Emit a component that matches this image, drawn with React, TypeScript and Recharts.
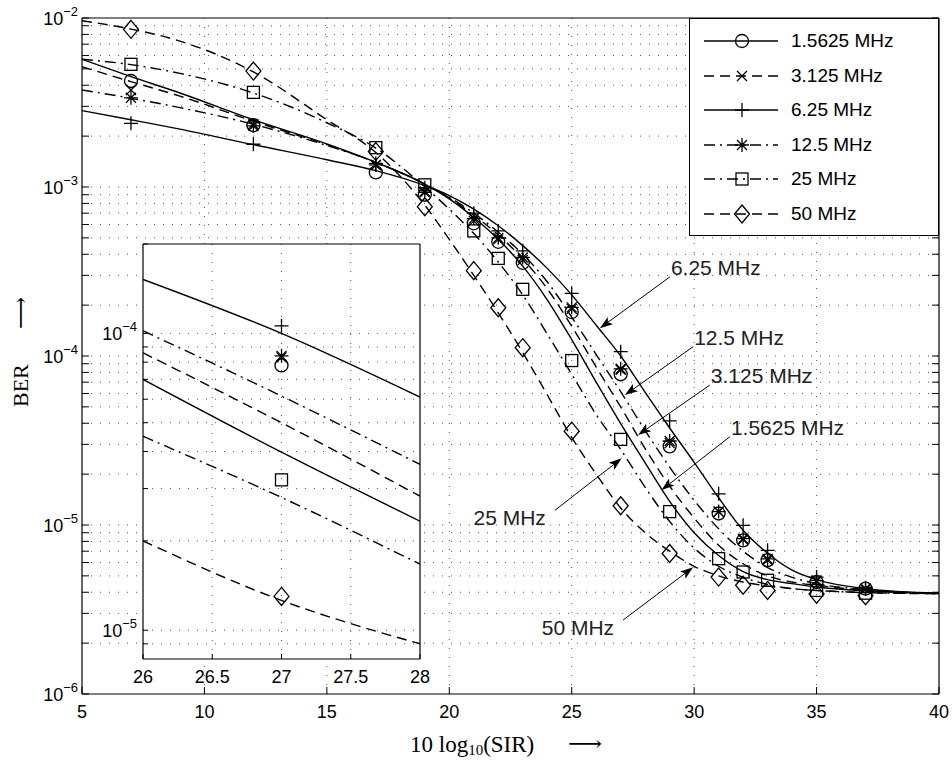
import React from "react";
import {
  ComposedChart,
  Line,
  Scatter,
  XAxis,
  YAxis,
  ReferenceLine,
  CartesianGrid,
  Legend,
} from "recharts";

if (typeof document !== "undefined") document.body.style.margin = "0";

const SANS = '"Liberation Sans", Arial, Helvetica, sans-serif';
const SERIF = '"Liberation Serif", "DejaVu Serif", serif';

// Theoriekurven (x = 10 log10(SIR))
const sirTheory = [5, 7, 9, 12, 15, 17, 19, 20, 21, 22, 23, 24, 25, 26, 27, 28, 29, 30, 31, 32, 33, 34, 35, 37, 40];
const theory1_5625 = [5.7e-3, 4.5e-3, 3.6e-3, 2.5e-3, 1.8e-3, 1.4e-3, 1.04e-3, 8.5e-4, 6.6e-4, 4.9e-4, 3.4e-4, 2.15e-4, 1.25e-4, 7.0e-5, 3.98e-5, 2.33e-5, 1.38e-5, 9.0e-6, 6.6e-6, 5.3e-6, 4.75e-6, 4.5e-6, 4.3e-6, 4.08e-6, 3.93e-6];
const theory3_125 = [5.15e-3, 4.2e-3, 3.45e-3, 2.45e-3, 1.78e-3, 1.4e-3, 1.04e-3, 8.6e-4, 6.8e-4, 5.2e-4, 3.75e-4, 2.5e-4, 1.5e-4, 8.6e-5, 5.0e-5, 2.83e-5, 1.7e-5, 1.1e-5, 7.6e-6, 5.9e-6, 5.0e-6, 4.6e-6, 4.4e-6, 4.1e-6, 3.93e-6];
const theory6_25 = [2.83e-3, 2.5e-3, 2.2e-3, 1.78e-3, 1.45e-3, 1.25e-3, 1.02e-3, 8.9e-4, 7.4e-4, 5.9e-4, 4.5e-4, 3.3e-4, 2.3e-4, 1.52e-4, 1.0e-4, 6.1e-5, 3.75e-5, 2.35e-5, 1.45e-5, 9.3e-6, 6.8e-6, 5.4e-6, 4.75e-6, 4.2e-6, 3.95e-6];
const theory12_5 = [3.75e-3, 3.35e-3, 2.95e-3, 2.35e-3, 1.76e-3, 1.4e-3, 1.04e-3, 8.7e-4, 7.0e-4, 5.4e-4, 4.0e-4, 2.75e-4, 1.7e-4, 1.02e-4, 6.15e-5, 3.62e-5, 2.2e-5, 1.4e-5, 9.5e-6, 7.0e-6, 5.6e-6, 4.9e-6, 4.5e-6, 4.15e-6, 3.94e-6];
const theory25 = [5.7e-3, 5.3e-3, 4.7e-3, 3.6e-3, 2.4e-3, 1.7e-3, 1.0e-3, 7.4e-4, 5.3e-4, 3.6e-4, 2.3e-4, 1.35e-4, 7.8e-5, 4.5e-5, 2.8e-5, 1.67e-5, 1.05e-5, 7.3e-6, 5.7e-6, 4.9e-6, 4.45e-6, 4.2e-6, 4.1e-6, 3.98e-6, 3.93e-6];
const theory50 = [9.64e-3, 8.6e-3, 7.3e-3, 4.8e-3, 2.5e-3, 1.6e-3, 7.8e-4, 4.9e-4, 3.0e-4, 1.8e-4, 1.05e-4, 5.9e-5, 3.3e-5, 2.0e-5, 1.26e-5, 9.0e-6, 7.0e-6, 5.7e-6, 5.0e-6, 4.6e-6, 4.35e-6, 4.2e-6, 4.1e-6, 3.98e-6, 3.92e-6];

// Simulationspunkte
const sirSim = [7, 12, 17, 19, 21, 22, 23, 25, 27, 29, 31, 32, 33, 35, 37];
const sim1_5625 = [4.24e-3, 2.32e-3, 1.22e-3, 9.0e-4, 6.1e-4, 4.74e-4, 3.56e-4, 1.82e-4, 7.8e-5, 2.92e-5, 1.17e-5, 8.1e-6, 6.2e-6, 4.6e-6, 4.2e-6];
const sim3_125 = [3.75e-3, 2.35e-3, 1.35e-3, 9.4e-4, 6.3e-4, 4.9e-4, 3.7e-4, 1.9e-4, 8.3e-5, 3.05e-5, 1.2e-5, 8.2e-6, 6.2e-6, 4.65e-6, 4.2e-6];
const sim6_25 = [2.38e-3, 1.79e-3, 1.38e-3, 9.9e-4, 7.0e-4, 5.5e-4, 4.19e-4, 2.35e-4, 1.06e-4, 4.13e-5, 1.53e-5, 9.95e-6, 7.08e-6, 4.92e-6, 4.25e-6];
const sim12_5 = [3.37e-3, 2.3e-3, 1.35e-3, 9.3e-4, 6.5e-4, 5.0e-4, 3.83e-4, 1.94e-4, 8.4e-5, 3.14e-5, 1.2e-5, 8.3e-6, 6.3e-6, 4.7e-6, 4.2e-6];
const sim25 = [5.32e-3, 3.63e-3, 1.71e-3, 1.03e-3, 5.5e-4, 3.78e-4, 2.48e-4, 9.4e-5, 3.21e-5, 1.2e-5, 6.32e-6, 5.27e-6, 4.71e-6, 4.1e-6, 3.95e-6];
const sim50 = [8.57e-3, 4.85e-3, 1.62e-3, 7.64e-4, 3.2e-4, 1.93e-4, 1.12e-4, 3.59e-5, 1.3e-5, 6.78e-6, 4.92e-6, 4.4e-6, 4.1e-6, 3.9e-6, 3.82e-6];

const seriesNames = ["1.5625 MHz", "3.125 MHz", "6.25 MHz", "12.5 MHz", "25 MHz", "50 MHz"];

// Achsen
const xTicks = [5, 10, 15, 20, 25, 30, 35, 40];
const xGrid = [10, 15, 20, 25, 30, 35];
const decades = [1e-6, 1e-5, 1e-4, 1e-3, 1e-2];
const minorSteps = [2, 3, 4, 5, 6, 7, 8, 9];
const insetXTicks = [26, 26.5, 27, 27.5, 28];
const insetXGrid = [26.5, 27, 27.5];
const insetDecades = [1e-5, 1e-4];

// Annotationen (Pfeil vom Text zur Kurve)
const annotLabels = ["6.25 MHz", "12.5 MHz", "3.125 MHz", "1.5625 MHz", "25 MHz", "50 MHz"];
const annotSide: ("start" | "end")[] = ["start", "start", "start", "start", "end", "end"];
const annotFromSir = [29.01, 29.96, 30.64, 31.46, 24.31, 27.1];
const annotFromBer = [2.94e-4, 1.135e-4, 6.73e-5, 3.33e-5, 1.22e-5, 2.74e-6];
const annotToSir = [26.15, 27.17, 27.71, 28.67, 27.04, 29.96];
const annotToBer = [1.46e-4, 5.87e-5, 3.41e-5, 1.61e-5, 2.48e-5, 5.62e-6];

const DASHED = "10 6";
const DASHDOT = "11 5 2 5";

type MarkerKind = "o" | "x" | "+" | "*" | "s" | "d";

const toPoints = (xs: number[], ys: number[]) => xs.map((x, i) => ({ x, y: ys[i] }));

const series: { name: string; theory: number[]; sim: number[]; marker: MarkerKind; dash?: string }[] = [
  { name: seriesNames[0], theory: theory1_5625, sim: sim1_5625, marker: "o" },
  { name: seriesNames[1], theory: theory3_125, sim: sim3_125, marker: "x", dash: DASHED },
  { name: seriesNames[2], theory: theory6_25, sim: sim6_25, marker: "+" },
  { name: seriesNames[3], theory: theory12_5, sim: sim12_5, marker: "*", dash: DASHDOT },
  { name: seriesNames[4], theory: theory25, sim: sim25, marker: "s", dash: DASHDOT },
  { name: seriesNames[5], theory: theory50, sim: sim50, marker: "d", dash: DASHED },
];

const mainYTicks: number[] = [];
decades.forEach((d, i) => {
  mainYTicks.push(d);
  if (i < decades.length - 1) minorSteps.forEach((m) => mainYTicks.push(d * m));
});
const mainYGrid = mainYTicks.filter((v) => v > 1.0001e-6 && v < 0.9999e-2);

const insetYTicks = [9e-6, ...[1e-5, 1e-4].flatMap((d) => [d, ...minorSteps.map((m) => d * m)])].filter(
  (v) => v <= 2.0001e-4
);
const insetYGrid = insetYTicks.filter((v) => v < 1.9999e-4);

const isDecade = (v: number) => Math.abs(Math.log10(v) - Math.round(Math.log10(v))) < 1e-6;

function Marker({ kind, cx, cy }: { kind: MarkerKind; cx: number; cy: number }) {
  const s = { stroke: "#000", strokeWidth: 1.3, fill: "none" };
  if (cx == null || cy == null || isNaN(cx) || isNaN(cy)) return <g />;
  switch (kind) {
    case "o":
      return <circle cx={cx} cy={cy} r={6.5} {...s} />;
    case "x":
      return <path d={`M${cx - 5},${cy - 5}L${cx + 5},${cy + 5}M${cx - 5},${cy + 5}L${cx + 5},${cy - 5}`} {...s} />;
    case "+":
      return <path d={`M${cx - 7},${cy}H${cx + 7}M${cx},${cy - 7}V${cy + 7}`} {...s} />;
    case "*":
      return (
        <path
          d={`M${cx - 7},${cy}H${cx + 7}M${cx},${cy - 7}V${cy + 7}M${cx - 5},${cy - 5}L${cx + 5},${cy + 5}M${cx - 5},${cy + 5}L${cx + 5},${cy - 5}`}
          {...s}
        />
      );
    case "s":
      return <rect x={cx - 6} y={cy - 6} width={12} height={12} {...s} />;
    case "d":
      return <polygon points={`${cx},${cy - 9} ${cx + 7.5},${cy} ${cx},${cy + 9} ${cx - 7.5},${cy}`} {...s} />;
  }
  return <g />;
}

function PowerLabel({ x, y, v }: { x: number; y: number; v: number }) {
  const e = Math.round(Math.log10(v));
  return (
    <text x={x} y={y} textAnchor="end" fontFamily={SANS} fontSize={18} fill="#000">
      10
      <tspan dy={-9} fontSize={13}>{`\u2212${Math.abs(e)}`}</tspan>
    </text>
  );
}

const TICK = 7;

const mainLeftTick = (p: any) => (
  <g>
    <line x1={p.x} x2={p.x + TICK} y1={p.y} y2={p.y} stroke="#000" strokeWidth={1} />
    {isDecade(p.payload.value) && <PowerLabel x={p.x - 4} y={p.y + 6.5} v={p.payload.value} />}
  </g>
);
const mainRightTick = (p: any) => (
  <line x1={p.x} x2={p.x - TICK} y1={p.y} y2={p.y} stroke="#000" strokeWidth={1} />
);
const mainBottomTick = (p: any) => (
  <g>
    <line x1={p.x} x2={p.x} y1={p.y} y2={p.y - TICK} stroke="#000" strokeWidth={1} />
    <text x={p.x} y={p.y + 24} textAnchor="middle" fontFamily={SANS} fontSize={18} fill="#000">
      {p.payload.value}
    </text>
  </g>
);
const mainTopTick = (p: any) => (
  <line x1={p.x} x2={p.x} y1={p.y} y2={p.y + TICK} stroke="#000" strokeWidth={1} />
);

const insetLeftTick = (p: any) => (
  <g>
    <line x1={p.x} x2={p.x + 5} y1={p.y} y2={p.y} stroke="#000" strokeWidth={1} />
    {insetDecades.some((d) => Math.abs(d - p.payload.value) / d < 1e-6) && (
      <PowerLabel x={p.x - 6} y={p.y + 6.5} v={p.payload.value} />
    )}
  </g>
);
const insetBottomTick = (p: any) => (
  <g>
    <line x1={p.x} x2={p.x} y1={p.y} y2={p.y - 5} stroke="#000" strokeWidth={1} />
    <text x={p.x} y={p.y + 24} textAnchor="middle" fontFamily={SANS} fontSize={18} fill="#000">
      {p.payload.value}
    </text>
  </g>
);

function makeArrow(label: string, side: "start" | "end") {
  return (p: any) => {
    const { x1, y1, x2, y2 } = p;
    if ([x1, y1, x2, y2].some((v) => typeof v !== "number" || isNaN(v))) return <g />;
    const ang = Math.atan2(y2 - y1, x2 - x1);
    const c = Math.cos(ang);
    const s = Math.sin(ang);
    const L = 13;
    const W = 4.5;
    const notch = 3;
    const bx = x2 - L * c;
    const by = y2 - L * s;
    const mx = x2 - (L - notch) * c;
    const my = y2 - (L - notch) * s;
    const pts = `${x2},${y2} ${bx - s * W},${by + c * W} ${mx},${my} ${bx + s * W},${by - c * W}`;
    const tx = side === "start" ? x1 + 1 : x1 - 9;
    const ty = side === "start" ? y1 - 2 : y1 + 15;
    return (
      <g>
        <line x1={x1} y1={y1} x2={mx} y2={my} stroke="#000" strokeWidth={1} />
        <polygon points={pts} fill="#000" />
        <text x={tx} y={ty} textAnchor={side} fontFamily={SANS} fontSize={21} fill="#222">
          {label}
        </text>
      </g>
    );
  };
}

function LegendBox() {
  return (
    <div
      style={{
        width: 250,
        height: 218,
        boxSizing: "border-box",
        border: "1px solid #000",
        background: "#fff",
        position: "relative",
        fontFamily: SANS,
      }}
    >
      {series.map((s, i) => (
        <div
          key={s.name}
          style={{
            position: "absolute",
            left: -1,
            top: 23 + i * 34.6 - 12 - 1,
            height: 24,
            display: "flex",
            alignItems: "center",
            whiteSpace: "nowrap",
          }}
        >
          <svg width={100} height={24} style={{ display: "block" }}>
            <line x1={15} x2={89} y1={12} y2={12} stroke="#000" strokeWidth={1.4} strokeDasharray={s.dash} />
            <Marker kind={s.marker} cx={53} cy={12} />
          </svg>
          <span style={{ fontSize: 19, marginLeft: 2, color: "#000" }}>{s.name}</span>
        </div>
      ))}
    </div>
  );
}

const AX = { stroke: "#000", strokeWidth: 1.2 };

export default function App() {
  const insetSeries = series.map((s) => ({
    ...s,
    theoryPts: toPoints(sirTheory, s.theory).filter((p) => p.x >= 26 && p.x <= 28),
    simPts: toPoints(sirSim, s.sim).filter((p) => p.x >= 26 && p.x <= 28),
  }));

  return (
    <div style={{ position: "relative", width: 952, height: 761, background: "#fff", fontFamily: SANS }}>
      <ComposedChart width={952} height={761} margin={{ top: 18, right: 13, bottom: 0, left: 0 }}>
        {mainYGrid.map((v) => (
          <ReferenceLine key={`gy${v}`} y={v} stroke="#555" strokeWidth={1} strokeDasharray="1 8" />
        ))}
        {xGrid.map((v) => (
          <ReferenceLine key={`gx${v}`} x={v} stroke="#555" strokeWidth={1} strokeDasharray="1 8" />
        ))}

        <XAxis
          dataKey="x"
          type="number"
          domain={[5, 40]}
          ticks={xTicks}
          interval={0}
          allowDataOverflow
          height={67}
          tickSize={0}
          tickMargin={0}
          tickLine={false}
          axisLine={AX}
          tick={mainBottomTick}
        />
        <XAxis
          xAxisId="t"
          orientation="top"
          mirror
          type="number"
          domain={[5, 40]}
          ticks={xTicks}
          interval={0}
          allowDataOverflow
          tickSize={0}
          tickMargin={0}
          tickLine={false}
          axisLine={AX}
          tick={mainTopTick}
        />
        <YAxis
          dataKey="y"
          type="number"
          scale="log"
          domain={[1e-6, 1e-2]}
          ticks={mainYTicks}
          interval={0}
          allowDataOverflow
          width={82}
          tickSize={0}
          tickMargin={0}
          tickLine={false}
          axisLine={AX}
          tick={mainLeftTick}
        />
        <YAxis
          yAxisId="r"
          orientation="right"
          mirror
          type="number"
          scale="log"
          domain={[1e-6, 1e-2]}
          ticks={mainYTicks}
          interval={0}
          allowDataOverflow
          tickSize={0}
          tickMargin={0}
          tickLine={false}
          axisLine={AX}
          tick={mainRightTick}
        />

        {series.map((s) => (
          <Line
            key={`l${s.name}`}
            data={toPoints(sirTheory, s.theory)}
            dataKey="y"
            type="monotone"
            stroke="#000"
            strokeWidth={1.4}
            strokeDasharray={s.dash}
            dot={false}
            activeDot={false}
            isAnimationActive={false}
            legendType="none"
          />
        ))}
        {series.map((s) => (
          <Scatter
            key={`s${s.name}`}
            data={toPoints(sirSim, s.sim)}
            dataKey="y"
            isAnimationActive={false}
            legendType="none"
            shape={(p: any) => <Marker kind={s.marker} cx={p.cx} cy={p.cy} />}
          />
        ))}

        {annotLabels.map((label, i) => (
          <ReferenceLine
            key={`a${label}`}
            segment={[
              { x: annotFromSir[i], y: annotFromBer[i] },
              { x: annotToSir[i], y: annotToBer[i] },
            ]}
            stroke="#000"
            shape={makeArrow(label, annotSide[i])}
          />
        ))}

        <Legend
          layout="vertical"
          align="center"
          verticalAlign="middle"
          content={() => <LegendBox />}
          wrapperStyle={{ position: "absolute", top: 18, left: 689, width: 250, height: 218, margin: 0, padding: 0 }}
        />

        <text x={28} y={407} transform="rotate(-90 28 407)" fontFamily={SERIF} fontSize={22} fill="#000">
          BER
        </text>
        <text
          x={28}
          y={329}
          transform="rotate(-90 28 329)"
          fontFamily={SERIF}
          fontSize={22}
          fill="#000"
          textLength={32}
          lengthAdjust="spacingAndGlyphs"
        >
          {"\u27F6"}
        </text>
        <text x={410} y={752} fontFamily={SERIF} fontSize={23} fill="#000">
          10 log
          <tspan dy={3} fontSize={15}>
            10
          </tspan>
          <tspan dy={-3}>(SIR)</tspan>
        </text>
        <text x={568} y={751} fontFamily={SERIF} fontSize={22} fill="#000" textLength={34} lengthAdjust="spacingAndGlyphs">
          {"\u27F6"}
        </text>
      </ComposedChart>

      <div style={{ position: "absolute", left: 95, top: 234 }}>
        <ComposedChart width={335} height={462} margin={{ top: 10, right: 10, bottom: 0, left: 0 }}>
          <CartesianGrid fill="#fff" horizontal={false} vertical={false} stroke="none" />
          {insetYGrid.map((v) => (
            <ReferenceLine key={`iy${v}`} y={v} stroke="#555" strokeWidth={1} strokeDasharray="1 8" />
          ))}
          {insetXGrid.map((v) => (
            <ReferenceLine key={`ix${v}`} x={v} stroke="#555" strokeWidth={1} strokeDasharray="1 8" />
          ))}
          <XAxis
            dataKey="x"
            type="number"
            domain={[26, 28]}
            ticks={insetXTicks}
            interval={0}
            allowDataOverflow
            height={37}
            tickSize={0}
            tickMargin={0}
            tickLine={false}
            axisLine={AX}
            tick={insetBottomTick}
          />
          <XAxis
            xAxisId="t"
            orientation="top"
            mirror
            type="number"
            domain={[26, 28]}
            allowDataOverflow
            tick={false}
            tickLine={false}
            axisLine={AX}
          />
          <YAxis
            dataKey="y"
            type="number"
            scale="log"
            domain={[8e-6, 2e-4]}
            ticks={insetYTicks}
            interval={0}
            allowDataOverflow
            width={48}
            tickSize={0}
            tickMargin={0}
            tickLine={false}
            axisLine={AX}
            tick={insetLeftTick}
          />
          <YAxis
            yAxisId="r"
            orientation="right"
            mirror
            type="number"
            scale="log"
            domain={[8e-6, 2e-4]}
            allowDataOverflow
            tick={false}
            tickLine={false}
            axisLine={AX}
          />
          {insetSeries.map((s) => (
            <Line
              key={`il${s.name}`}
              data={s.theoryPts}
              dataKey="y"
              type="monotone"
              stroke="#000"
              strokeWidth={1.4}
              strokeDasharray={s.dash}
              dot={false}
              activeDot={false}
              isAnimationActive={false}
            />
          ))}
          {insetSeries.map((s) => (
            <Scatter
              key={`is${s.name}`}
              data={s.simPts}
              dataKey="y"
              isAnimationActive={false}
              shape={(p: any) => <Marker kind={s.marker} cx={p.cx} cy={p.cy} />}
            />
          ))}
        </ComposedChart>
      </div>
    </div>
  );
}
